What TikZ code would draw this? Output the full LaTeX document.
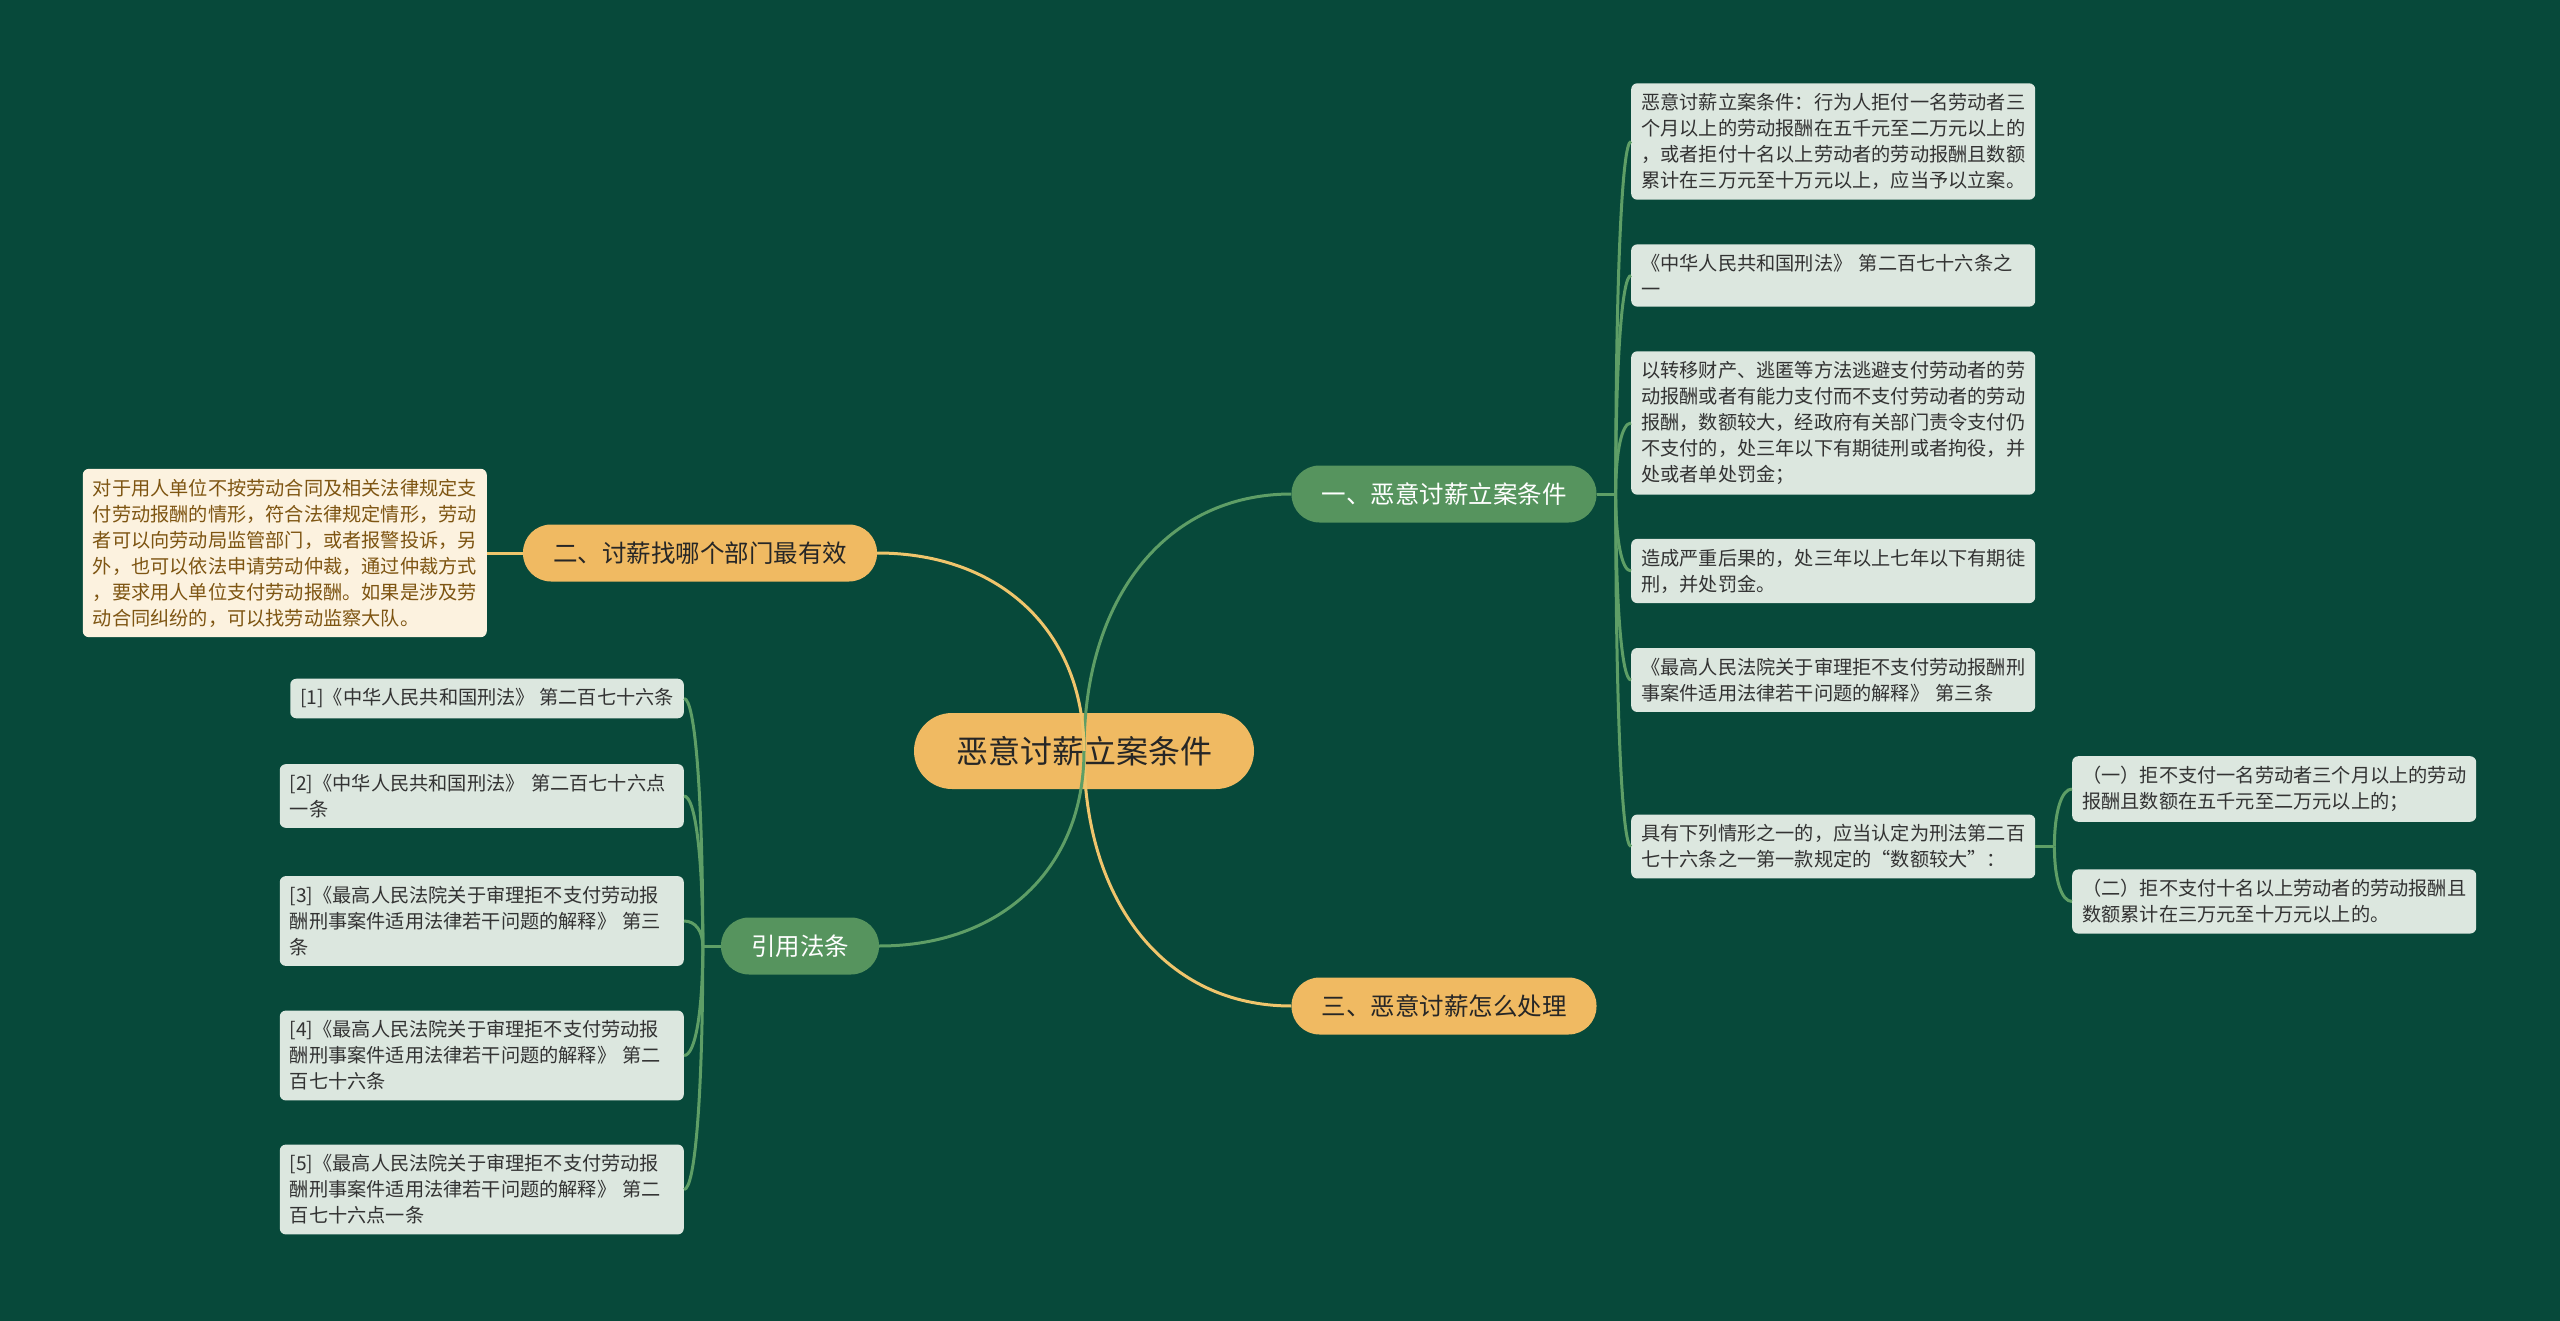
\documentclass[tikz,border=0pt]{standalone}
\usepackage{fontspec}
\newfontfamily\cjk{Noto Sans CJK SC}
\usepackage{xcolor}
\definecolor{MMbg}{HTML}{07493A}
\definecolor{MMgold}{HTML}{F0BA62}
\definecolor{MMgreen}{HTML}{56945E}
\definecolor{MMline}{HTML}{5E9E66}
\definecolor{MMyline}{HTML}{EFC56C}
\definecolor{MMleaf}{HTML}{DCE7DF}
\definecolor{MMcream}{HTML}{FCF2DF}
\definecolor{MMbrown}{HTML}{7E5512}
\definecolor{MMtext}{HTML}{333333}
\usetikzlibrary{calc}

\begin{document}
\begin{tikzpicture}[x=1pt,y=-1pt,
  root/.style={fill=MMgold,rounded corners=38pt,minimum width=340pt,minimum height=76pt,
    text=black!85,font=\cjk\fontsize{32}{38}\selectfont},
  topic/.style={rounded corners=28pt,minimum height=57pt,inner xsep=30pt,
    font=\cjk\fontsize{24.5}{30}\selectfont},
  ytopic/.style={topic,fill=MMgold,text=black!85},
  gtopic/.style={topic,fill=MMgreen,text=white},
  leaf/.style={fill=MMleaf,rounded corners=6pt,text=MMtext,align=left,text width=384pt,
    inner xsep=10pt,inner ysep=10pt,font=\cjk\fontsize{19.2}{26}\selectfont},
  memo/.style={leaf,fill=MMcream,text=MMbrown},
  gedge/.style={draw=MMline,line width=3pt},
  yedge/.style={draw=MMyline,line width=3pt}]
\fill[MMbg] (0,0) rectangle (2560,1321);
\useasboundingbox (0,0) rectangle (2560,1321);

\node[root] (root) at (1084,751) {恶意讨薪立案条件};
\node[gtopic] (b1) at (1444,494) {一、恶意讨薪立案条件};
\node[ytopic] (b2) at (700,553) {二、讨薪找哪个部门最有效};
\node[ytopic] (b3) at (1444,1006) {三、恶意讨薪怎么处理};
\node[gtopic] (b4) at (800,946) {引用法条};

\node[leaf,anchor=west] (r1) at (1631,141.5) {恶意讨薪立案条件：行为人拒付一名劳动者三\\个月以上的劳动报酬在五千元至二万元以上的\\，或者拒付十名以上劳动者的劳动报酬且数额\\累计在三万元至十万元以上，应当予以立案。};
\node[leaf,anchor=west] (r2) at (1631,275.5) {《中华人民共和国刑法》~第二百七十六条之\\一};
\node[leaf,anchor=west] (r3) at (1631,423) {以转移财产、逃匿等方法逃避支付劳动者的劳\\动报酬或者有能力支付而不支付劳动者的劳动\\报酬，数额较大，经政府有关部门责令支付仍\\不支付的，处三年以下有期徒刑或者拘役，并\\处或者单处罚金；};
\node[leaf,anchor=west] (r4) at (1631,571) {造成严重后果的，处三年以上七年以下有期徒\\刑，并处罚金。};
\node[leaf,anchor=west] (r5) at (1631,680) {《最高人民法院关于审理拒不支付劳动报酬刑\\事案件适用法律若干问题的解释》~第三条};
\node[leaf,anchor=west] (r6) at (1631,846.5) {具有下列情形之一的，应当认定为刑法第二百\\七十六条之一第一款规定的“数额较大”：};
\node[leaf,anchor=west] (c1) at (2072,789) {（一）拒不支付一名劳动者三个月以上的劳动\\报酬且数额在五千元至二万元以上的；};
\node[leaf,anchor=west] (c2) at (2072,901.5) {（二）拒不支付十名以上劳动者的劳动报酬且\\数额累计在三万元至十万元以上的。};

\node[memo,anchor=east] (memo) at (487,553) {对于用人单位不按劳动合同及相关法律规定支\\付劳动报酬的情形，符合法律规定情形，劳动\\者可以向劳动局监管部门，或者报警投诉，另\\外，也可以依法申请劳动仲裁，通过仲裁方式\\，要求用人单位支付劳动报酬。如果是涉及劳\\动合同纠纷的，可以找劳动监察大队。};

\node[leaf,text width=,anchor=east] (s1) at (684,698.5) {[1]《中华人民共和国刑法》~第二百七十六条};
\node[leaf,anchor=east] (s2) at (684,796) {[2]《中华人民共和国刑法》~第二百七十六点\\一条};
\node[leaf,anchor=east] (s3) at (684,921) {[3]《最高人民法院关于审理拒不支付劳动报\\酬刑事案件适用法律若干问题的解释》~第三\\条};
\node[leaf,anchor=east] (s4) at (684,1055.5) {[4]《最高人民法院关于审理拒不支付劳动报\\酬刑事案件适用法律若干问题的解释》~第二\\百七十六条};
\node[leaf,anchor=east] (s5) at (684,1189.5) {[5]《最高人民法院关于审理拒不支付劳动报\\酬刑事案件适用法律若干问题的解释》~第二\\百七十六点一条};

\foreach \k/\e in {b1/gedge,b3/yedge}
  \draw[\e] (root.center) .. controls ($(root.center)!0.6!(root.center |- \k.west)$)
    and ($(\k.west)!0.6!(root.center |- \k.west)$) .. (\k.west);
\foreach \k/\e in {b2/yedge,b4/gedge}
  \draw[\e] (root.center) .. controls ($(root.center)!0.6!(root.center |- \k.east)$)
    and ($(\k.east)!0.6!(root.center |- \k.east)$) .. (\k.east);

\draw[yedge] (b2.west) -- (memo.east);

\draw[gedge] (b1.east) -- ++(19,0) coordinate (rj);
\foreach \k in {r1,r2,r3,r4,r5,r6}
  \draw[gedge] (rj) .. controls ($(rj)!0.6!(rj |- \k.west)$)
    and ($(\k.west)!0.6!(rj |- \k.west)$) .. (\k.west);

\draw[gedge] (r6.east) -- ++(19,0) coordinate (cj);
\foreach \k in {c1,c2}
  \draw[gedge] (cj) .. controls ($(cj)!0.6!(cj |- \k.west)$)
    and ($(\k.west)!0.6!(cj |- \k.west)$) .. (\k.west);

\draw[gedge] (b4.west) -- ++(-18,0) coordinate (sj);
\foreach \k in {s1,s2,s3,s4,s5}
  \draw[gedge] (sj) .. controls ($(sj)!0.6!(sj |- \k.east)$)
    and ($(\k.east)!0.6!(sj |- \k.east)$) .. (\k.east);
\end{tikzpicture}
\end{document}
